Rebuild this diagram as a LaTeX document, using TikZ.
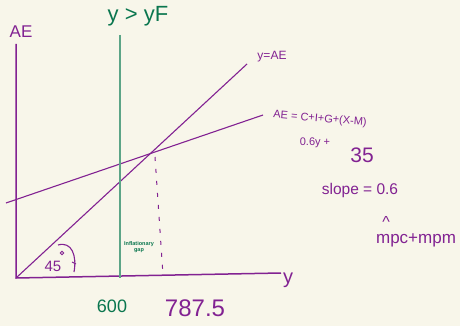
\documentclass[tikz,border=0pt]{standalone}
\usepackage{fontspec}
\setmainfont{Liberation Sans}
\definecolor{pp}{RGB}{130,34,146}
\definecolor{gtxt}{RGB}{10,118,78}
\definecolor{gline}{RGB}{92,165,135}
\definecolor{bg}{RGB}{248,246,234}
\tikzset{
  axis/.style={draw=pp, line width=1.5pt},
  curve/.style={draw=pp, line width=1.1pt},
  ptxt/.style={text=pp, inner sep=0pt},
  gtx/.style={text=gtxt, inner sep=0pt},
}
\begin{document}
\begin{tikzpicture}[x=1pt,y=-1pt]
\path[fill=bg, use as bounding box] (0,0) rectangle (460,326);
% coordinates
\coordinate (O) at (16,278);
\coordinate (Ytop) at (16,44);
\coordinate (Xend) at (281,273);
\coordinate (D) at (247,64);
\coordinate (A1) at (6,203);
\coordinate (A2) at (263,115);
\coordinate (G1) at (120,35);
\coordinate (G2) at (120,278);
\coordinate (E1) at (155,157);
\coordinate (E2) at (163,275);
% axes
\draw[axis] (Ytop) -- (O) -- (Xend);
% lines
\draw[curve] (O) -- (D);
\draw[curve] (A1) -- (A2);
\draw[draw=gline, line width=1.8pt] (G1) -- (G2);
\draw[draw=pp, line width=1pt, dash pattern=on 4pt off 8pt] (E1) -- (E2);
% 45 degree arc
\coordinate (R1) at (58,245);
\coordinate (R2) at (74,272);
\draw[curve] (R1) .. controls (72,241) and (77,256) .. (R2);
\draw[curve] (72,262) -- (76,264);
\node[draw=pp, circle, inner sep=1.2pt, line width=0.8pt] (deg) at (62,253) {};
\node[ptxt, font=\fontsize{15}{15}\selectfont] (f45) at (53,266) {45};
% labels
\node[ptxt, font=\fontsize{17}{17}\selectfont] (lAE) at (21,32) {AE};
\node[gtx, font=\fontsize{22}{22}\selectfont] (lYF) at (138,16) {y > yF};
\node[ptxt, font=\fontsize{12}{12}\selectfont] (lyAE) at (272,57) {y=AE};
\node[ptxt, font=\fontsize{11}{11}\selectfont, rotate=-5] (lAEf) at (320,119) {AE = C+I+G+(X-M)};
\node[ptxt, font=\fontsize{11}{11}\selectfont] (l06) at (315,143) {0.6y +};
\node[ptxt, font=\fontsize{21}{21}\selectfont] (l35) at (362,155) {35};
\node[ptxt, font=\fontsize{15.5}{15.5}\selectfont] (lslope) at (360,190) {slope = 0.6};
\node[ptxt, font=\fontsize{16}{16}\selectfont] (lhat) at (386,222) {\^{}};
\node[ptxt, font=\fontsize{17}{17}\selectfont] (lmpc) at (416,240) {mpc+mpm};
\node[ptxt, font=\fontsize{20}{20}\selectfont] (ly) at (288,280) {y};
\node[gtx, font=\fontsize{18}{18}\selectfont] (l600) at (112,306) {600};
\node[ptxt, font=\fontsize{24}{24}\selectfont] (l787) at (195,308) {787.5};
\node[gtx, font=\fontsize{5.5}{6.5}\selectfont\bfseries, align=center] (lgap) at (139,247) {Inflationary\\gap};
\end{tikzpicture}
\end{document}
